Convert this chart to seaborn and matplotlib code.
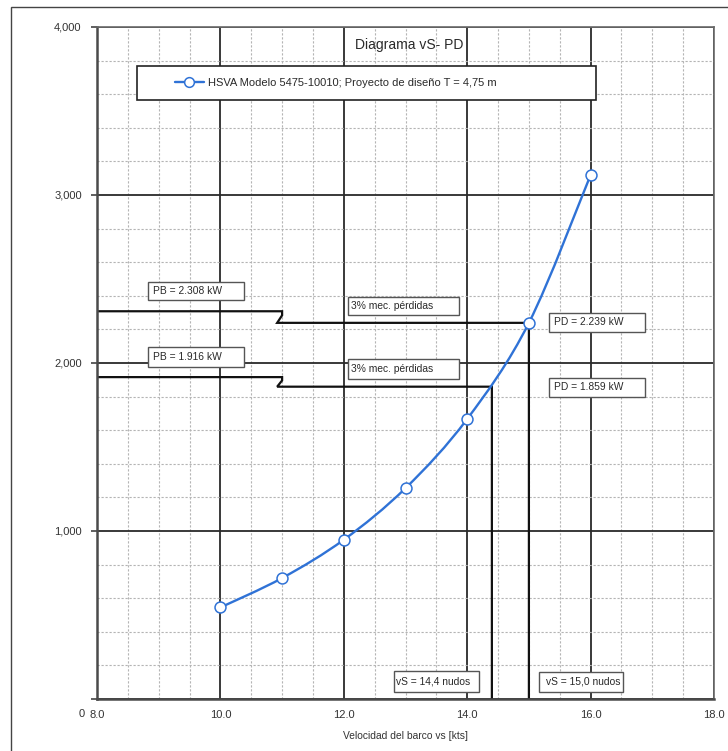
import matplotlib
matplotlib.use("Agg")
import matplotlib.pyplot as plt
from matplotlib.path import Path
from matplotlib.patches import PathPatch, Rectangle
from matplotlib.lines import Line2D
from matplotlib.ticker import MultipleLocator
import numpy as np
import pandas as pd
import seaborn as sns

# Model test results: ship speed [kts] vs delivered power PD [kW]
speed_kts = [10.0, 11.0, 12.0, 13.0, 14.0, 15.0, 16.0]
power_kw = [545, 720, 948, 1255, 1667, 2239, 3119]

# Operating points
vs_op = [14.4, 15.0]
pd_op = [1859, 2239]
pb_op = [1916, 2308]

series_label = "HSVA Modelo 5475-10010; Proyecto de diseño T = 4,75 m"
title_text = "Diagrama vS- PD"
xlabel_text = "Velocidad del barco vs [kts]"
loss_text = "3% mec. pérdidas"
x_ticks = [8.0, 10.0, 12.0, 14.0, 16.0, 18.0]
x_ticklabels = ["8.0", "10.0", "12.0", "14.0", "16.0", "18.0"]
y_ticks = [0, 1000, 2000, 3000, 4000]
y_ticklabels = ["", "1,000", "2,000", "3,000", "4,000"]

sns.set_theme(style="white")
plt.rcParams["font.family"] = ["Liberation Sans", "DejaVu Sans"]

W, H = 728, 751
fig = plt.figure(figsize=(W / 100, H / 100), dpi=100)
ax = fig.add_axes([97 / W, 1 - 699 / H, (714 - 97) / W, (699 - 27) / H])

BLUE = "#2f72d6"
TXT = "#2a2a2a"

df = pd.DataFrame({"speed": speed_kts, "power": power_kw})


def smooth_path(xs, ys):
    """Cubic Bezier path through the points (Catmull-Rom tangents)."""
    pts = np.column_stack([xs, ys]).astype(float)
    n = len(pts)
    verts = [pts[0]]
    codes = [Path.MOVETO]
    for i in range(n - 1):
        p0 = pts[i - 1] if i > 0 else pts[i]
        p1 = pts[i]
        p2 = pts[i + 1]
        p3 = pts[i + 2] if i + 2 < n else pts[i + 1]
        c1 = p1 + (p2 - p0) / 6.0
        c2 = p2 - (p3 - p1) / 6.0
        verts += [c1, c2, p2]
        codes += [Path.CURVE4] * 3
    return Path(verts, codes)


ax.set_xlim(8, 18)
ax.set_ylim(0, 4000)

# grid
ax.xaxis.set_major_locator(MultipleLocator(2))
ax.xaxis.set_minor_locator(MultipleLocator(0.5))
ax.yaxis.set_major_locator(MultipleLocator(1000))
ax.yaxis.set_minor_locator(MultipleLocator(200))
ax.grid(which="minor", color="#b4b4b4", lw=0.8, ls=(0, (2.0, 1.6)), zorder=0)
ax.grid(which="major", color="#2a2a2a", lw=1.3, ls="-", zorder=0.5)
ax.set_axisbelow(True)

# operating point guide lines (with break symbol)
for vs, pd_, pb in zip(vs_op, pd_op, pb_op):
    xs = [8.0, 11.0, 11.0, 10.92, vs, vs]
    ys = [pb, pb, pb - 0.35 * (pb - pd_), pd_, pd_, 0]
    ax.plot(xs, ys, color="#111111", lw=1.6, zorder=2, solid_joinstyle="miter")

# power curve
ax.add_patch(PathPatch(smooth_path(speed_kts, power_kw), fill=False,
                       edgecolor=BLUE, lw=1.7, zorder=3))
sns.scatterplot(data=df, x="speed", y="power", ax=ax, marker="o", s=62,
                facecolor="white", edgecolor=BLUE, linewidth=1.1, zorder=4,
                legend=False)


def label_box(x0, x1, y0, y1, text, ec="#555555", pad=0.08):
    ax.add_patch(Rectangle((x0, y0), x1 - x0, y1 - y0, facecolor="white",
                           edgecolor=ec, lw=1.0, zorder=5))
    ax.text(x0 + pad, (y0 + y1) / 2, text, ha="left", va="center",
            fontsize=7.4, color=TXT, zorder=6)


def kw(v):
    return f"{v / 1000:.3f} kW"


def kn(v):
    return f"{v:.1f}".replace(".", ",") + " nudos"


# PB labels
label_box(8.82, 10.39, 2375, 2482, "PB = " + kw(pb_op[1]))
label_box(8.82, 10.39, 1976, 2095, "PB = " + kw(pb_op[0]))
# mechanical losses
label_box(12.07, 13.86, 2286, 2394, loss_text, pad=0.04)
label_box(12.07, 13.86, 1905, 2024, loss_text, pad=0.04)
# PD labels
label_box(15.33, 16.88, 2185, 2298, "PD = " + kw(pd_op[1]))
label_box(15.33, 16.88, 1799, 1912, "PD = " + kw(pd_op[0]))
# speed labels
label_box(12.81, 14.19, 43, 169, "vS = " + kn(vs_op[0]), pad=0.04)
label_box(15.17, 16.53, 42, 162, "vS = " + kn(vs_op[1]), pad=0.1)

# title
ax.text(13.06, 3890, title_text, ha="center", va="center", fontsize=10,
        color=TXT, zorder=6)

# legend inside a framed box
ax.add_patch(Rectangle((8.646, 3565), 16.08 - 8.646, 3768 - 3565,
                       facecolor="white", edgecolor="#222222", lw=1.2, zorder=5))
handle = Line2D([], [], color=BLUE, lw=1.7, marker="o", markersize=7,
                markerfacecolor="white", markeredgecolor=BLUE, markeredgewidth=1.1)
leg = ax.legend([handle], [series_label], loc="center left",
                bbox_to_anchor=(9.26, (3565 + 3768) / 2),
                bbox_transform=ax.transData, frameon=False, fontsize=8,
                handlelength=2.6, handletextpad=0.35, borderpad=0,
                borderaxespad=0)
leg.set_zorder(7)
for t in leg.get_texts():
    t.set_color(TXT)

# axes styling
ax.set_xticks(x_ticks)
ax.set_xticklabels(x_ticklabels)
ax.set_yticks(y_ticks)
ax.set_yticklabels(y_ticklabels)
ax.tick_params(axis="x", which="both", length=0, pad=8, labelsize=8,
               labelcolor="#333333")
ax.tick_params(axis="y", which="major", length=4, width=1.2, color="#444444",
               pad=7, labelsize=8, labelcolor="#333333", left=True)
ax.tick_params(axis="y", which="minor", length=0)
ax.text(-0.02, -0.023, "0", transform=ax.transAxes, ha="right", va="center",
        fontsize=8, color="#333333")
ax.set_xlabel(xlabel_text, fontsize=7.4, color="#333333", labelpad=8)
ax.set_ylabel("")

for side in ["left", "bottom"]:
    ax.spines[side].set_color("#4a4a4a")
    ax.spines[side].set_linewidth(1.8)
for side in ["top", "right"]:
    ax.spines[side].set_color("#6a6a6a")
    ax.spines[side].set_linewidth(1.2)

# outer page frame
fig.add_artist(Rectangle((11 / W, -0.05), 1.2, 1.05 - 7 / H,
                         transform=fig.transFigure, fill=False,
                         edgecolor="#444444", lw=1.0))

fig.savefig("out.png", dpi=100, facecolor="white")
